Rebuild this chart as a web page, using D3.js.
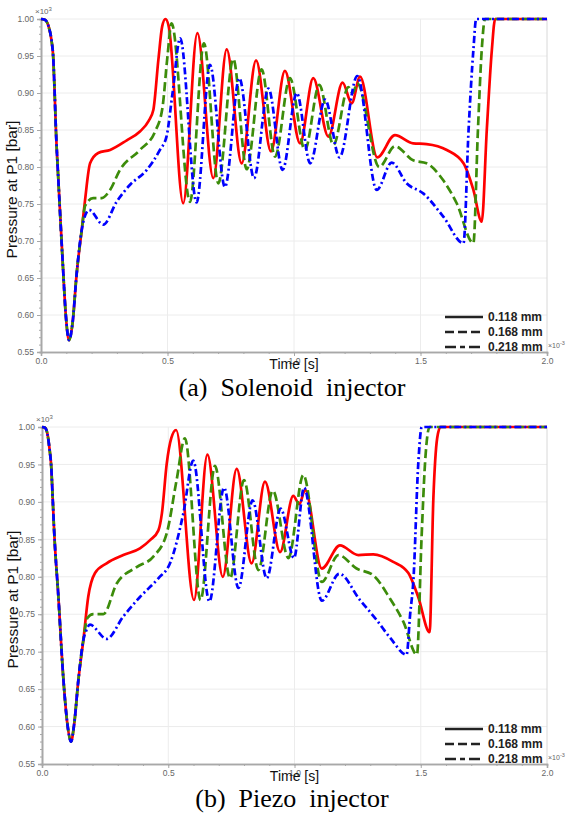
<!DOCTYPE html>
<html>
<head>
<meta charset="utf-8">
<script src="https://cdn.jsdelivr.net/npm/d3@7"></script>
<style>
  body { margin: 0; background: #fff; }
  svg { display: block; }
</style>
</head>
<body>
<svg width="566" height="816"></svg>
<script>
// tick values (time in 1e-3 s, pressure in 1e3 bar)
var xTicks = [0, 0.5, 1.0, 1.5, 2.0];
var yTicks = [0.55, 0.60, 0.65, 0.70, 0.75, 0.80, 0.85, 0.90, 0.95, 1.00];
var legendLabels = ["0.118 mm", "0.168 mm", "0.218 mm"];

// (a) solenoid injector - shared opening part
var solStart = [[0,1.0],[0.015,0.999],[0.03,0.99],[0.042,0.97],[0.048,0.95],[0.054,0.90],[0.059,0.85],
  [0.069,0.78],[0.086,0.67],[0.098,0.60],[0.111,0.566],[0.125,0.59],[0.141,0.656],[0.161,0.715]];
var sol118 = solStart.concat([[0.174,0.755],[0.194,0.805],[0.226,0.819],[0.273,0.823],[0.339,0.836],
  [0.391,0.848],[0.425,0.862],[0.444,0.877],[0.464,0.945],[0.479,0.99],[0.492,1.0],[0.505,0.99],
  [0.562,0.751],[0.618,0.981],[0.681,0.785],[0.734,0.959],[0.793,0.805],[0.850,0.944],[0.909,0.821],
  [0.964,0.930],[1.024,0.832],[1.076,0.920],[1.136,0.841],[1.192,0.914],[1.228,0.886],[1.261,0.922],
  [1.329,0.813],[1.399,0.843],[1.471,0.832],[1.524,0.831],[1.604,0.823],[1.670,0.805],[1.709,0.769],
  [1.742,0.726],[1.762,0.85],[1.782,0.958],[1.795,1.0],[2.0,1.0]]);
var sol168 = solStart.concat([[0.175,0.748],[0.206,0.758],[0.240,0.758],[0.273,0.769],[0.312,0.796],
  [0.391,0.823],[0.451,0.848],[0.480,0.88],[0.500,0.95],[0.516,0.994],[0.589,0.753],[0.644,0.967],
  [0.701,0.778],[0.760,0.946],[0.813,0.797],[0.872,0.932],[0.925,0.814],[0.984,0.920],[1.043,0.823],
  [1.100,0.911],[1.156,0.830],[1.215,0.908],[1.232,0.900],[1.250,0.913],[1.337,0.800],[1.399,0.828],
  [1.471,0.809],[1.524,0.805],[1.590,0.782],[1.643,0.751],[1.709,0.697],[1.727,0.85],[1.742,0.958],
  [1.755,1.0],[2.0,1.0]]);
var sol218 = solStart.concat([[0.175,0.735],[0.190,0.742],[0.246,0.722],[0.299,0.753],[0.352,0.776],
  [0.418,0.796],[0.470,0.823],[0.496,0.841],[0.520,0.90],[0.550,0.974],[0.615,0.752],[0.668,0.938],
  [0.727,0.773],[0.784,0.920],[0.842,0.785],[0.899,0.906],[0.955,0.796],[1.011,0.900],[1.064,0.805],
  [1.123,0.891],[1.180,0.813],[1.250,0.923],[1.327,0.769],[1.386,0.806],[1.445,0.778],[1.512,0.764],
  [1.590,0.733],[1.670,0.697],[1.690,0.85],[1.709,0.958],[1.720,1.0],[2.0,1.0]]);

// (b) piezo injector - shared opening part
var pzStart = [[0,1.0],[0.012,0.999],[0.022,0.99],[0.030,0.97],[0.036,0.95],[0.043,0.90],[0.048,0.862],
  [0.065,0.773],[0.085,0.662],[0.100,0.605],[0.115,0.580],[0.128,0.605],[0.144,0.662],[0.164,0.716]];
var pz118 = pzStart.concat([[0.183,0.773],[0.210,0.805],[0.256,0.818],[0.322,0.829],[0.388,0.838],
  [0.428,0.849],[0.461,0.862],[0.475,0.885],[0.494,0.951],[0.512,0.985],[0.531,0.996],[0.602,0.769],
  [0.655,0.963],[0.716,0.800],[0.771,0.944],[0.830,0.818],[0.883,0.927],[0.943,0.833],[0.995,0.908],
  [1.019,0.897],[1.042,0.916],[1.108,0.811],[1.180,0.842],[1.253,0.829],[1.312,0.830],[1.391,0.820],
  [1.451,0.805],[1.490,0.773],[1.535,0.726],[1.550,0.905],[1.565,0.985],[1.578,1.0],[2.0,1.0]]);
var pz168 = pzStart.concat([[0.180,0.745],[0.203,0.750],[0.243,0.750],[0.296,0.791],[0.375,0.813],
  [0.441,0.827],[0.494,0.858],[0.533,0.929],[0.566,0.985],[0.628,0.769],[0.685,0.948],[0.745,0.798],
  [0.800,0.929],[0.857,0.809],[0.914,0.915],[0.976,0.825],[1.035,0.936],[1.108,0.793],[1.174,0.829],
  [1.246,0.811],[1.312,0.802],[1.378,0.771],[1.431,0.740],[1.485,0.696],[1.503,0.85],[1.517,0.952],
  [1.535,1.0],[2.0,1.0]]);
var pz218 = pzStart.concat([[0.175,0.728],[0.190,0.736],[0.256,0.717],[0.322,0.747],[0.388,0.773],
  [0.461,0.798],[0.507,0.818],[0.560,0.885],[0.599,0.955],[0.663,0.767],[0.721,0.919],[0.778,0.785],
  [0.834,0.902],[0.890,0.798],[0.945,0.891],[0.998,0.825],[1.038,0.919],[1.108,0.768],[1.177,0.804],
  [1.259,0.769],[1.326,0.742],[1.380,0.718],[1.444,0.696],[1.458,0.75],[1.471,0.796],[1.490,0.95],
  [1.504,1.0],[2.0,1.0]]);

// styles for the three nozzle sizes
var colors = ["#ff0000", "#3c8c0a", "#0000ff"];
var dashes = [null, "9,4", "7,3,2,3"];
var legendDashes = [null, "9,4", "11,4,5,4"];

var svg = d3.select("svg");

function drawPanel(p) {
  var x = d3.scaleLinear().domain([0, 2]).range([p.left, p.right]);
  var y = d3.scaleLinear().domain([0.55, 1.0]).range([p.bottom, p.top]);
  var g = svg.append("g");

  // grid
  g.selectAll(".hg").data(yTicks.slice(1)).enter().append("line")
    .attr("x1", p.left).attr("x2", p.right)
    .attr("y1", function(d) { return y(d); }).attr("y2", function(d) { return y(d); })
    .attr("stroke", "#ececec").attr("stroke-width", 1);
  g.selectAll(".vg").data(xTicks.slice(1)).enter().append("line")
    .attr("y1", p.top).attr("y2", p.bottom)
    .attr("x1", function(d) { return x(d); }).attr("x2", function(d) { return x(d); })
    .attr("stroke", function(d) { return d == 2 ? "#d8d8d8" : "#ececec"; }).attr("stroke-width", 1);

  // minor ticks
  var yMinor = g.append("g").attr("transform", "translate(" + p.left + ",0)")
    .call(d3.axisLeft(y).tickValues(d3.range(55, 101).map(function(v) { return v / 100; }))
      .tickSize(2).tickFormat(""));
  var xMinor = g.append("g").attr("transform", "translate(0," + p.bottom + ")")
    .call(d3.axisBottom(x).tickValues(d3.range(0, 21).map(function(v) { return v / 10; }))
      .tickSize(2).tickFormat(""));
  // major ticks
  var yAxis = g.append("g").attr("transform", "translate(" + p.left + ",0)")
    .call(d3.axisLeft(y).tickValues(yTicks).tickSize(4).tickPadding(3).tickFormat(d3.format(".2f")));
  var xAxis = g.append("g").attr("transform", "translate(0," + p.bottom + ")")
    .call(d3.axisBottom(x).tickValues(xTicks).tickSize(4).tickPadding(2).tickFormat(d3.format(".1f")));
  [yMinor, xMinor, yAxis, xAxis].forEach(function(a) {
    a.selectAll("path").attr("stroke", "#a8a8a8").attr("stroke-width", 1.6);
    a.selectAll("line").attr("stroke", "#a8a8a8");
    a.selectAll("text").attr("fill", "#666").attr("font-size", 8.5)
      .attr("font-family", "Liberation Sans, Arial, sans-serif");
  });

  // exponent marks
  g.append("text").attr("x", p.left - 6).attr("y", p.top - 5)
    .attr("font-size", 8).attr("fill", "#666").attr("font-family", "Liberation Sans, Arial, sans-serif")
    .html("×10<tspan dy='-3' font-size='6'>3</tspan>");
  g.append("text").attr("x", p.right + 1).attr("y", p.bottom - 4)
    .attr("font-size", 7).attr("fill", "#666").attr("font-family", "Liberation Sans, Arial, sans-serif")
    .html("×10<tspan dy='-3' font-size='5.5'>-3</tspan>");

  // curves
  var line = d3.line()
    .x(function(d) { return x(d[0]); })
    .y(function(d) { return y(d[1]); })
    .curve(d3.curveMonotoneX);
  p.series.forEach(function(s, i) {
    g.append("path").datum(s)
      .attr("d", line)
      .attr("fill", "none")
      .attr("stroke", colors[i])
      .attr("stroke-width", 2.7)
      .attr("stroke-dasharray", dashes[i]);
  });

  // legend
  var lg = g.selectAll(".leg").data(legendLabels).enter().append("g")
    .attr("transform", function(d, i) { return "translate(0," + (p.bottom - 35 + i * 15) + ")"; });
  lg.append("line").attr("x1", p.right - 102).attr("x2", p.right - 64)
    .attr("stroke", "#222").attr("stroke-width", 2.6)
    .attr("stroke-dasharray", function(d, i) { return legendDashes[i]; });
  lg.append("text").attr("x", p.right - 59).attr("dy", "0.35em")
    .attr("font-size", 12).attr("font-weight", "bold").attr("fill", "#222")
    .attr("font-family", "Liberation Sans, Arial, sans-serif")
    .text(function(d) { return d; });

  // axis titles
  g.append("text")
    .attr("transform", "translate(" + (p.left - 24) + "," + ((p.top + p.bottom) / 2 + 4) + ") rotate(-90)")
    .attr("text-anchor", "middle").attr("font-size", 15.5).attr("fill", "#111")
    .attr("font-family", "Liberation Sans, Arial, sans-serif")
    .text("Pressure at P1 [bar]");
  g.append("text").attr("x", (p.left + p.right) / 2).attr("y", p.bottom + 17)
    .attr("text-anchor", "middle").attr("font-size", 14).attr("fill", "#111")
    .attr("font-family", "Liberation Sans, Arial, sans-serif")
    .text("Time [s]");
  g.append("text").attr("x", 292).attr("y", p.captionY)
    .attr("text-anchor", "middle").attr("font-size", 26).attr("fill", "#000")
    .attr("font-family", "Liberation Serif, Times New Roman, serif")
    .style("white-space", "pre")
    .text(p.caption);
}

drawPanel({ left: 41, right: 547, top: 19, bottom: 352, captionY: 396,
  caption: "(a)  Solenoid  injector", series: [sol118, sol168, sol218] });
drawPanel({ left: 42, right: 547, top: 427, bottom: 764, captionY: 807,
  caption: "(b)  Piezo  injector", series: [pz118, pz168, pz218] });
</script>
</body>
</html>
